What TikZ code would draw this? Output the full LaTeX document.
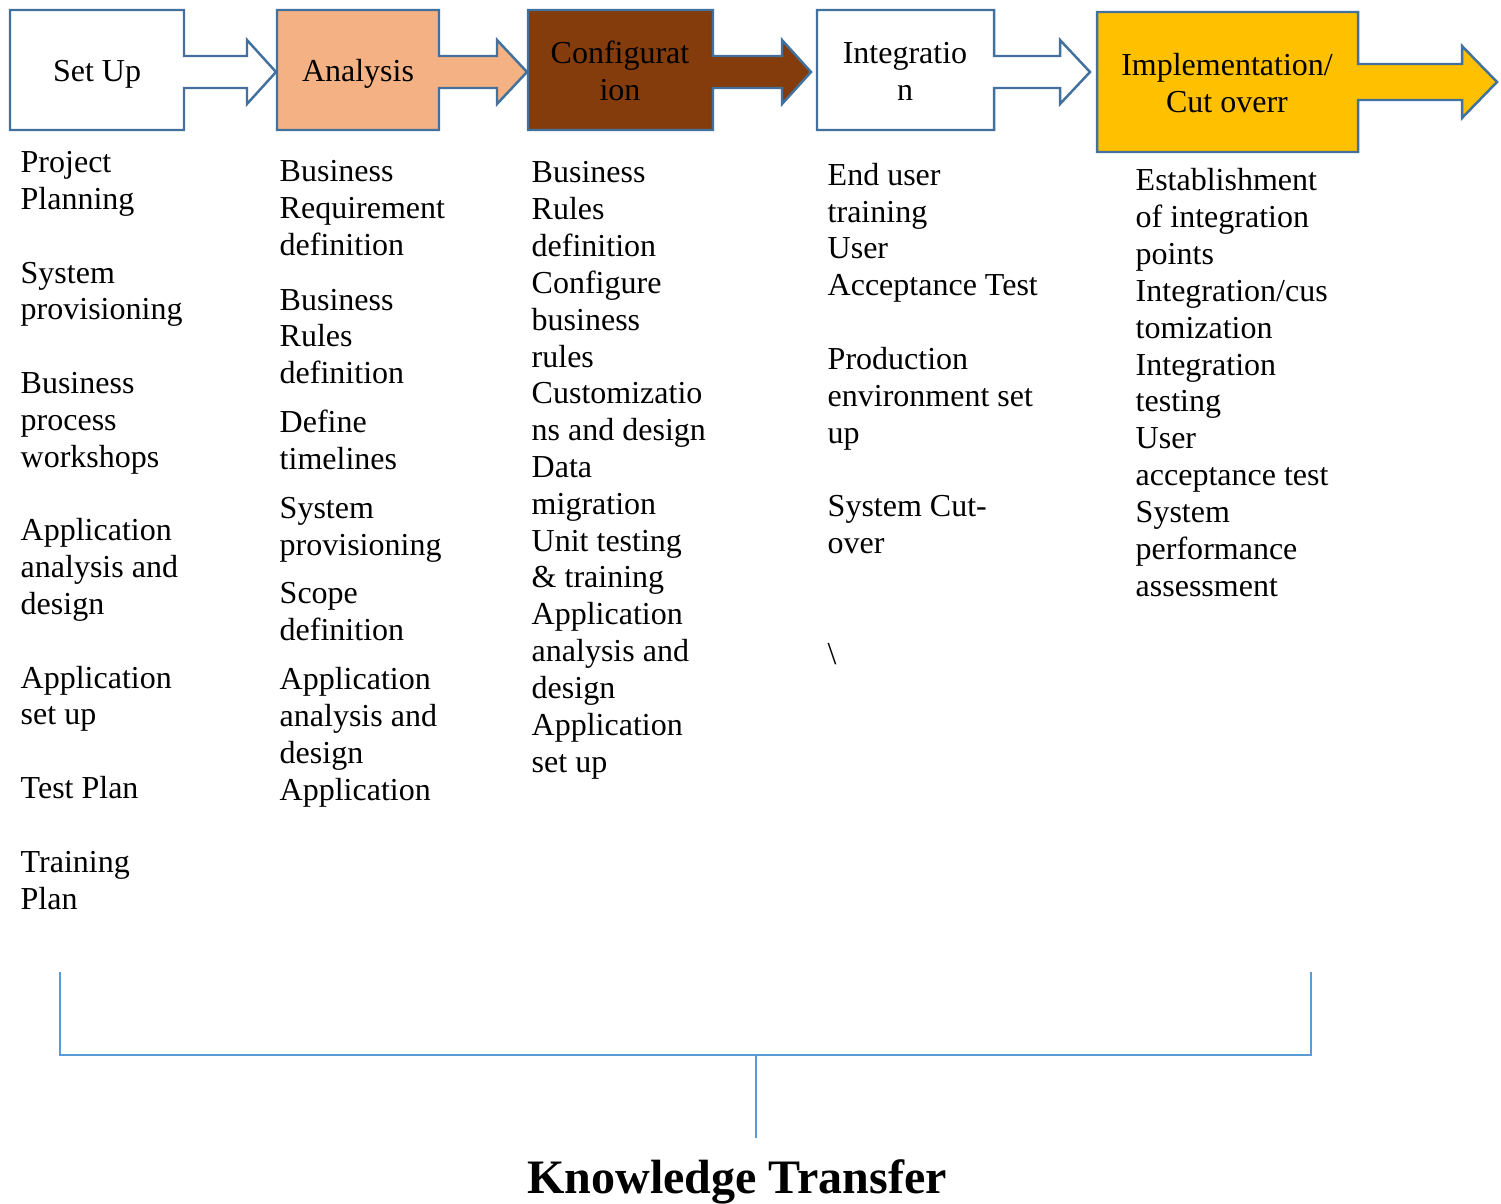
\documentclass[tikz,border=0pt]{standalone}
\usepackage{fontspec}
\setmainfont{Liberation Serif}
\usepackage{tikz}
\usetikzlibrary{positioning,calc}
\usepackage{xcolor}
\definecolor{coledge}{HTML}{41719C}
\definecolor{colpeach}{HTML}{F4B183}
\definecolor{colbrown}{HTML}{843C0C}
\definecolor{colgold}{HTML}{FFC000}
\definecolor{collink}{HTML}{5B9BD5}

\begin{document}
\begin{tikzpicture}[
  x=0.01cm, y=-0.01cm,
  font=\fontsize{9.1pt}{10.47pt}\selectfont,
  phase/.style={draw=coledge,line width=0.7pt,line join=miter},
  label/.style={align=center,inner sep=0pt},
  % el ancla base cae en la ultima linea del bloque
  item/.style={align=left,anchor=base west,inner sep=0pt},
  link/.style={draw=collink,line width=0.45pt},
]
  \useasboundingbox (0,0) rectangle (1501,1203);
  % ---------------- fases ----------------
  \draw[phase,fill=white] (10,10) -- (184,10) -- (184,56) -- (247,56) -- (247,40)
    -- (276,72) -- (247,104) -- (247,88) -- (184,88) -- (184,130) -- (10,130) -- cycle;
  \node[label] (setup) at (97,74) {Set Up};

  \draw[phase,fill=colpeach] (277,10) -- (439,10) -- (439,56) -- (497,56) -- (497,40)
    -- (527,72) -- (497,104) -- (497,88) -- (439,88) -- (439,130) -- (277,130) -- cycle;
  \node[label] (analysis) at (358,74) {Analysis};

  \draw[phase,fill=colbrown] (528,10) -- (713,10) -- (713,56) -- (782,56) -- (782,40)
    -- (811,72) -- (782,104) -- (782,88) -- (713,88) -- (713,130) -- (528,130) -- cycle;
  \node[label] (config) at (620,71) {Configurat\\ion};

  \draw[phase,fill=white] (817,10) -- (994,10) -- (994,56) -- (1060,56) -- (1060,40)
    -- (1090,72) -- (1060,104) -- (1060,88) -- (994,88) -- (994,130) -- (817,130) -- cycle;
  \node[label] (integ) at (905,71) {Integratio\\n};

  \draw[phase,fill=colgold] (1097,12) -- (1358,12) -- (1358,64) -- (1462,64) -- (1462,46)
    -- (1497,82) -- (1462,118) -- (1462,100) -- (1358,100) -- (1358,152) -- (1097,152) -- cycle;
  \node[label] (impl) at (1227,83) {Implementation/\\Cut overr};

  % ---------------- columnas ----------------
  \node[item] (setuplist) at (20,909) {Project\\Planning\\[0.368cm]
    System\\provisioning\\[0.368cm]
    Business\\process\\workshops\\[0.368cm]
    Application\\analysis and\\design\\[0.368cm]
    Application\\set up\\[0.368cm]
    Test Plan\\[0.368cm]
    Training\\Plan};

  \node[item] (analysislist) at (279,800) {Business\\Requirement\\definition\\[0.18cm]
    Business\\Rules\\definition\\[0.12cm]
    Define\\timelines\\[0.12cm]
    System\\provisioning\\[0.12cm]
    Scope\\definition\\[0.12cm]
    Application\\analysis and\\design\\Application};

  \node[item] (configlist) at (531,772) {Business\\Rules\\definition\\Configure\\business\\rules\\
    Customizatio\\ns and design\\Data\\migration\\Unit testing\\\& training\\
    Application\\analysis and\\design\\Application\\set up};

  \node[item] (integlist) at (827,664) {End user\\training\\User\\Acceptance Test\\[0.368cm]
    Production\\environment set\\up\\[0.368cm]
    System Cut-\\over\\[0.736cm]
    \textbackslash};

  \node[item] (impllist) at (1135,596) {Establishment\\of integration\\points\\
    Integration/cus\\tomization\\Integration\\testing\\User\\acceptance test\\
    System\\performance\\assessment};

  % ---------------- transferencia ----------------
  \coordinate (kl) at (60,972);
  \coordinate (kr) at (1311,972);
  \coordinate (kj) at (756,1055);
  \coordinate (kb) at (756,1138);
  \draw[link] (kl) |- (kj) -| (kr);
  \draw[link] (kj) -- (kb);
  \node[anchor=base,inner sep=0pt,font=\fontsize{13.66pt}{15pt}\selectfont\bfseries]
    (kt) at (737,1193) {Knowledge Transfer};
\end{tikzpicture}
\end{document}
